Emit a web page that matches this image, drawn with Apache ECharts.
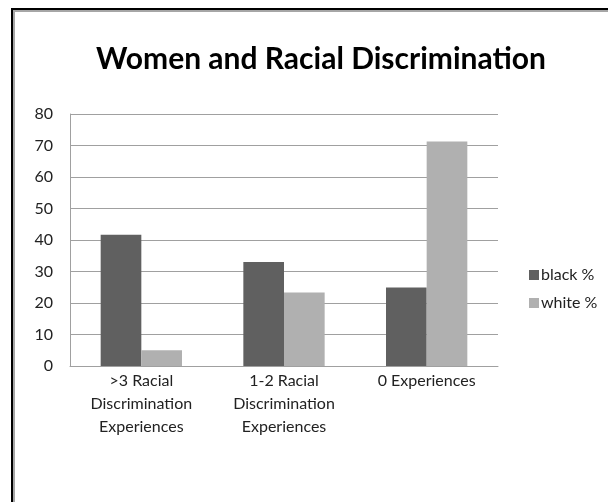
<!DOCTYPE html>
<html>
<head>
<meta charset="utf-8">
<style>
  html, body { margin: 0; padding: 0; background: #fff; }
  #chart { width: 608px; height: 502px; }
</style>
<script src="https://cdn.jsdelivr.net/npm/echarts@6/dist/echarts.min.js"></script>
</head>
<body>
<div id="chart"></div>
<script>
// Share of women (%) by number of racial discrimination experiences
const categories = [
  '>3 Racial\nDiscrimination\nExperiences',
  '1-2 Racial\nDiscrimination\nExperiences',
  '0 Experiences'
];
const blackPct = [41.7, 33.0, 24.9];
const whitePct = [5.0, 23.3, 71.3];
const seriesNames = ['black %', 'white %'];
const yTicks = { min: 0, max: 80, interval: 10 };

const FONT = 'Lato, "Open Sans", sans-serif';

const chart = echarts.init(document.getElementById('chart'), null, { renderer: 'canvas' });
chart.setOption({
  backgroundColor: '#ffffff',
  animation: false,
  title: {
    text: 'Women and Racial Discrimination',
    left: 316,
    top: 39,
    textAlign: 'center',
    textStyle: { fontFamily: FONT, fontSize: 30, fontWeight: 'bold', color: '#000' }
  },
  graphic: [
    // outer frame
    { type: 'rect', silent: true, shape: { x: 12, y: 9, width: 700, height: 600 },
      style: { fill: 'none', stroke: '#000', lineWidth: 2 } },
    { type: 'rect', silent: true, shape: { x: 14, y: 11, width: 700, height: 600 },
      style: { fill: 'none', stroke: '#a6a6a6', lineWidth: 2 } }
  ],
  legend: {
    orient: 'vertical',
    left: 524,
    top: 262,
    itemWidth: 10,
    itemHeight: 10,
    itemGap: 12,
    icon: 'rect',
    data: seriesNames,
    textStyle: { fontFamily: FONT, fontSize: 16, color: '#222', padding: [0, 0, 0, -3] }
  },
  grid: { left: 70, right: 110, top: 114, bottom: 136, containLabel: false },
  xAxis: {
    type: 'category',
    data: categories,
    axisLine: { lineStyle: { color: '#a0a0a0', width: 1 } },
    axisTick: { show: false },
    axisLabel: {
      interval: 0, margin: 3, lineHeight: 23,
      fontFamily: FONT, fontSize: 16, color: '#222'
    }
  },
  yAxis: {
    type: 'value',
    min: yTicks.min, max: yTicks.max, interval: yTicks.interval,
    axisLine: { show: true, lineStyle: { color: '#a0a0a0', width: 1 } },
    axisTick: { show: false },
    splitLine: { lineStyle: { color: '#a0a0a0', width: 1 } },
    axisLabel: { margin: 17, fontFamily: FONT, fontSize: 16, color: '#222' }
  },
  series: [
    { name: seriesNames[0], type: 'bar', data: blackPct, barGap: '0%', barCategoryGap: '43%',
      itemStyle: { color: '#606060' } },
    { name: seriesNames[1], type: 'bar', data: whitePct, barGap: '0%', barCategoryGap: '43%',
      itemStyle: { color: '#b0b0b0' } }
  ]
});
</script>
</body>
</html>
